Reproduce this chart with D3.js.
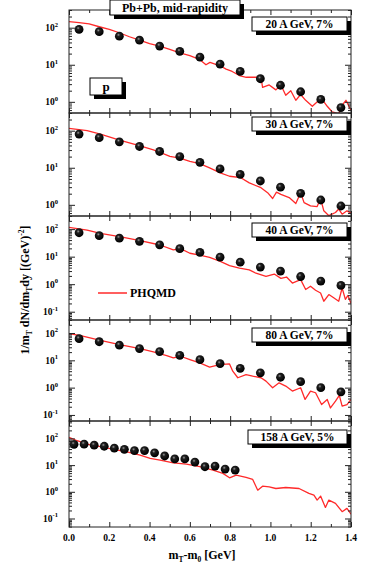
<!DOCTYPE html>
<html><head><meta charset="utf-8">
<script src="https://cdn.jsdelivr.net/npm/d3@7"></script>
<style>
html,body{margin:0;padding:0;background:#fff;}
svg{display:block;font-family:"Liberation Serif","Times New Roman",serif;font-weight:bold;}
</style></head>
<body>
<svg id="c" width="365" height="569"></svg>
<script>
// ---------------- data ----------------
const xTicksMajor = [0.0, 0.2, 0.4, 0.6, 0.8, 1.0, 1.2, 1.4];
const xTickLabels = ["0.0", "0.2", "0.4", "0.6", "0.8", "1.0", "1.2", "1.4"];
const xTicksMinor = [0.1, 0.3, 0.5, 0.7, 0.9, 1.1, 1.3];

const panelLabels = ["20 A GeV, 7%", "30 A GeV, 7%", "40 A GeV, 7%", "80 A GeV, 7%", "158 A GeV, 5%"];
const yDomains = [[0.5, 300], [0.5, 300], [0.05, 300], [0.06, 300], [0.048, 450]];

const xData = [0.05, 0.15, 0.25, 0.35, 0.45, 0.55, 0.65, 0.75, 0.85, 0.95, 1.05, 1.15, 1.25, 1.35];
const data20 = [90, 78, 59, 46, 32, 23, 16, 10.4, 6.6, 4.2, 2.8, 1.87, 1.16, 0.7];
const data30 = [81, 65, 50, 37.5, 27.5, 20, 14, 9.3, 6.6, 4.4, 3.0, 2.05, 1.35, 0.93];
const data40 = [74, 58, 47, 36, 27, 19.5, 14.2, 9.6, 6.3, 4.2, 3.0, 1.9, 1.3, 0.9];
const data80 = [62, 48, 36, 27, 21, 15.2, 10.6, 7.6, 5.1, 3.5, 2.4, 1.65, 1.0, 0.7];
const xData158 = [0.025, 0.075, 0.125, 0.175, 0.225, 0.275, 0.325, 0.375, 0.425, 0.475, 0.525, 0.575, 0.625, 0.675, 0.725, 0.775, 0.825];
const data158 = [60, 61, 56, 51, 43, 39, 35, 35, 29, 22, 17, 17, 13, 8.7, 9.2, 7.1, 6.5];

// PHQMD model curves: [mT-m0, value]
const model20 = [[0,146],[0.05,137],[0.1,126],[0.15,106],[0.2,90],[0.25,73],[0.3,57],[0.35,46],[0.4,37],[0.45,32],[0.5,26],[0.55,21],[0.6,17.6],[0.65,13.7],[0.68,10],[0.7,11.6],[0.75,9.4],[0.78,7.6],[0.81,6.6],[0.85,5.0],[0.88,4.6],[0.953,4.6],[0.961,2.45],[0.994,2.85],[1.027,2.1],[1.052,2.85],[1.076,1.5],[1.101,2.0],[1.126,1.1],[1.15,1.58],[1.175,1.1],[1.208,0.76],[1.241,1.1],[1.257,1.17],[1.282,0.76],[1.306,0.54],[1.339,0.48],[1.356,0.81],[1.375,1.1],[1.4,0.59]];
const model30 = [[0,115],[0.09,100],[0.156,81],[0.251,56],[0.353,39],[0.419,30.5],[0.452,25.9],[0.501,20.3],[0.55,18.3],[0.6,14.9],[0.649,12.9],[0.698,9.9],[0.751,7.3],[0.797,5.9],[0.853,5.4],[0.895,3.9],[0.953,2.9],[0.986,2.13],[1.011,1.48],[1.03,2.2],[1.052,1.92],[1.093,1.57],[1.126,1.09],[1.15,2.13],[1.167,1.15],[1.199,0.94],[1.232,0.9],[1.249,1.48],[1.265,0.69],[1.29,0.51],[1.323,0.62],[1.339,0.77],[1.356,0.56],[1.38,0.69],[1.4,0.6]];
const model40 = [[0,115],[0.09,92],[0.156,70],[0.251,53],[0.353,38],[0.452,26.5],[0.518,17.5],[0.554,19.6],[0.6,13.3],[0.649,11.3],[0.698,9.5],[0.751,6.7],[0.797,4.7],[0.846,3.8],[0.895,3.3],[0.928,2.5],[0.978,1.92],[1.019,2.33],[1.052,1.63],[1.08,1.82],[1.109,1.1],[1.15,1.46],[1.175,0.64],[1.199,0.84],[1.224,0.6],[1.249,0.48],[1.265,0.24],[1.29,0.42],[1.314,0.32],[1.339,0.24],[1.356,0.73],[1.372,0.28],[1.385,0.39],[1.4,0.2]];
const model80 = [[0,95],[0.058,80],[0.156,54],[0.251,37.6],[0.353,26.9],[0.419,20.3],[0.485,14.9],[0.518,12.3],[0.554,14.1],[0.6,10.7],[0.649,8.1],[0.698,5.6],[0.748,7.0],[0.797,7.4],[0.813,4.0],[0.838,2.3],[0.879,3.0],[0.912,2.63],[0.953,2.3],[0.978,1.73],[1.011,0.99],[1.043,1.5],[1.076,1.14],[1.109,0.75],[1.15,0.99],[1.172,0.37],[1.199,0.75],[1.224,0.65],[1.254,0.24],[1.282,0.37],[1.298,0.18],[1.323,0.32],[1.342,0.52],[1.356,0.21],[1.38,0.24],[1.4,0.37]];
const model158 = [[0,109],[0.041,82],[0.09,61],[0.156,49],[0.222,38.7],[0.288,31.6],[0.353,23.7],[0.403,17.8],[0.452,15.4],[0.518,12.2],[0.583,10.9],[0.649,8.7],[0.715,6.5],[0.764,4.9],[0.797,3.35],[0.83,4.2],[0.879,3.45],[0.912,2.9],[0.937,1.15],[0.961,1.63],[0.994,1.54],[1.027,1.33],[1.076,1.45],[1.142,1.33],[1.191,0.87],[1.216,0.75],[1.232,0.49],[1.249,0.69],[1.273,0.26],[1.29,0.49],[1.323,0.37],[1.356,0.18],[1.38,0.24],[1.4,0.145]];

const pointX = [xData, xData, xData, xData, xData158];
const pointY = [data20, data30, data40, data80, data158];
const models = [model20, model30, model40, model80, model158];

// ---------------- layout ----------------
const svg = d3.select("#c");
const L = 69, R = 351;
const tops = [10, 113, 216, 320, 421], bottomAll = 527;
const labelBoxY = [7, 4, 7, 8, 9];
const x = d3.scaleLinear().domain([0, 1.4]).range([L, R]);
const red = "#ff2a2a";

const defs = svg.append("defs");
const grad = defs.append("radialGradient").attr("id", "ball").attr("cx", "40%").attr("cy", "35%").attr("r", "60%");
grad.append("stop").attr("offset", "0%").attr("stop-color", "#9a9a9a");
grad.append("stop").attr("offset", "30%").attr("stop-color", "#202020");
grad.append("stop").attr("offset", "100%").attr("stop-color", "#000");

function boxWithShadow(g, bx, by, bw, bh, text, fs) {
  g.append("rect").attr("x", bx + 4).attr("y", by + 4).attr("width", bw).attr("height", bh).attr("fill", "#000");
  g.append("rect").attr("x", bx).attr("y", by).attr("width", bw).attr("height", bh).attr("fill", "#fff").attr("stroke", "#000").attr("stroke-width", 1);
  g.append("text").attr("x", bx + bw / 2).attr("y", by + bh / 2 + fs * 0.34).attr("text-anchor", "middle")
    .attr("font-size", fs).attr("fill", "#000").text(text);
}

for (let i = 0; i < 5; i++) {
  const top = tops[i], bot = (i < 4 ? tops[i + 1] : bottomAll);
  const y = d3.scaleLog().domain(yDomains[i]).range([bot, top]);
  const g = svg.append("g");
  const cid = "clip" + i;
  defs.append("clipPath").attr("id", cid).append("rect").attr("x", L).attr("y", top).attr("width", R - L).attr("height", bot - top);

  // model line
  const line = d3.line().x(d => x(d[0])).y(d => y(d[1]));
  g.append("path").datum(models[i]).attr("d", line).attr("fill", "none").attr("stroke", red)
    .attr("stroke-width", 1.3).attr("stroke-linejoin", "round").attr("clip-path", `url(#${cid})`);

  // data points
  g.selectAll("circle.pt").data(pointX[i].map((v, k) => [v, pointY[i][k]])).enter().append("circle")
    .attr("cx", d => x(d[0])).attr("cy", d => y(d[1])).attr("r", 4.4).attr("fill", "url(#ball)");

  // frame
  g.append("rect").attr("x", L).attr("y", top).attr("width", R - L).attr("height", bot - top)
    .attr("fill", "none").attr("stroke", "#222").attr("stroke-width", 1);

  // x ticks (inward, top & bottom)
  const axStyle = sel => { sel.select(".domain").remove(); sel.selectAll("line").attr("stroke", "#222"); };
  g.append("g").attr("transform", `translate(0,${bot})`)
    .call(d3.axisBottom(x).tickValues(xTicksMajor).tickSize(-5).tickFormat("")).call(axStyle);
  g.append("g").attr("transform", `translate(0,${bot})`)
    .call(d3.axisBottom(x).tickValues(xTicksMinor).tickSize(-3).tickFormat("")).call(axStyle);
  g.append("g").attr("transform", `translate(0,${top})`)
    .call(d3.axisTop(x).tickValues(xTicksMajor).tickSize(-5).tickFormat("")).call(axStyle);
  g.append("g").attr("transform", `translate(0,${top})`)
    .call(d3.axisTop(x).tickValues(xTicksMinor).tickSize(-3).tickFormat("")).call(axStyle);

  // y ticks
  const [lo, hi] = yDomains[i];
  const majors = [], minors = [];
  for (let e = Math.floor(Math.log10(lo)); e <= Math.ceil(Math.log10(hi)); e++) {
    const p = Math.pow(10, e);
    if (p >= lo && p <= hi) majors.push(p);
    for (let k = 2; k <= 9; k++) { const v = k * p; if (v >= lo && v <= hi) minors.push(v); }
  }
  g.append("g").attr("transform", `translate(${L},0)`).call(d3.axisLeft(y).tickValues(majors).tickSize(-6).tickFormat("")).call(axStyle);
  g.append("g").attr("transform", `translate(${L},0)`).call(d3.axisLeft(y).tickValues(minors).tickSize(-3).tickFormat("")).call(axStyle);
  g.append("g").attr("transform", `translate(${R},0)`).call(d3.axisRight(y).tickValues(majors).tickSize(-6).tickFormat("")).call(axStyle);
  g.append("g").attr("transform", `translate(${R},0)`).call(d3.axisRight(y).tickValues(minors).tickSize(-3).tickFormat("")).call(axStyle);

  // y tick labels 10^n
  majors.forEach(p => {
    const t = g.append("text").attr("x", L - 11).attr("y", y(p) + 3.5).attr("text-anchor", "end").attr("font-size", 9.5).attr("fill", "#000");
    t.append("tspan").text("10");
    t.append("tspan").attr("font-size", 6.5).attr("dy", -4.5).text(String(Math.round(Math.log10(p))));
  });

  // energy label box
  const bx = i === 4 ? 248 : 252;
  boxWithShadow(g, bx, top + labelBoxY[i], 347 - bx, 14, panelLabels[i], 11.5);
}

// x tick labels on bottom panel
svg.append("g").selectAll("text").data(xTicksMajor).enter().append("text")
  .attr("x", d => x(d)).attr("y", 541).attr("text-anchor", "middle").attr("font-size", 9.5).attr("fill", "#000")
  .text((d, k) => xTickLabels[k]);

// x axis title
const xt = svg.append("text").attr("x", 202).attr("y", 559).attr("text-anchor", "middle").attr("font-size", 12).attr("fill", "#000");
xt.append("tspan").text("m");
xt.append("tspan").attr("font-size", 7.5).attr("dy", 3).text("T");
xt.append("tspan").attr("dy", -3).text("-m");
xt.append("tspan").attr("font-size", 7.5).attr("dy", 3).text("0");
xt.append("tspan").attr("dy", -3).text(" [GeV]");

// y axis title
const yt = svg.append("text").attr("transform", "translate(29,290) rotate(-90)").attr("text-anchor", "middle").attr("font-size", 12).attr("fill", "#000");
yt.append("tspan").text("1/m");
yt.append("tspan").attr("font-size", 7.5).attr("dy", 3).text("T");
yt.append("tspan").attr("dy", -3).text(" dN/dm");
yt.append("tspan").attr("font-size", 7.5).attr("dy", 3).text("T");
yt.append("tspan").attr("dy", -3).text("dy [(GeV)");
yt.append("tspan").attr("font-size", 7.5).attr("dy", -5).text("-2");
yt.append("tspan").attr("dy", 5).text("]");

// title box
boxWithShadow(svg, 110, 0, 130, 15, "Pb+Pb,  mid-rapidity", 12);

// particle box
boxWithShadow(svg, 90, 78, 32, 17, "p", 13);

// legend
svg.append("line").attr("x1", 98).attr("x2", 127).attr("y1", 293).attr("y2", 293).attr("stroke", red).attr("stroke-width", 1.5);
svg.append("text").attr("x", 130).attr("y", 297).attr("font-size", 12).attr("fill", "#000").text("PHQMD");
</script>
</body></html>
